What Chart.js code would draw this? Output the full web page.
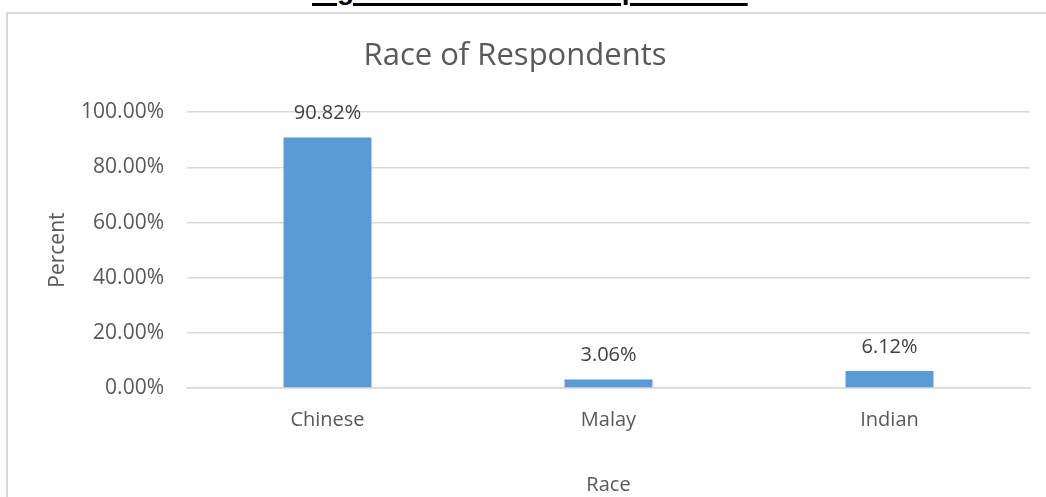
<!DOCTYPE html>
<html>
<head>
<meta charset="utf-8">
<script src="https://cdn.jsdelivr.net/npm/chart.js@4"></script>
<style>
  html, body { margin: 0; padding: 0; background: #fff; }
  body { width: 1046px; height: 497px; position: relative; overflow: hidden; }
  #caption {
    position: absolute; left: 312px; top: -24px;
    font: bold 28px/28px "Liberation Sans", Arial, sans-serif;
    color: #000; white-space: nowrap;
    text-decoration: underline; text-decoration-thickness: 3px; text-underline-offset: 4px;
  }
  #frame {
    position: absolute; left: 6px; top: 12px; width: 1100px; height: 600px;
    border: 2px solid #d9d9d9; box-sizing: border-box;
  }
  #wrap { position: absolute; left: 0; top: 0; width: 1046px; height: 497px; }
</style>
</head>
<body>
<div id="caption">Figure 4.4: Race of Respondents</div>
<div id="frame"></div>
<div id="wrap"><canvas id="grafico" width="1046" height="497"></canvas></div>
<script>
const racas = ['Chinese', 'Malay', 'Indian'];
const percentuais = [90.82, 3.06, 6.12];
const ticksY = [0, 20, 40, 60, 80, 100];

const corTexto = '#595959';
const fonte = '"Open Sans", "Noto Sans", sans-serif';

// escreve o valor de cada barra logo acima dela
const rotulosValor = {
    id: 'rotulosValor',
    afterDatasetsDraw(chart) {
        const ctx = chart.ctx;
        const meta = chart.getDatasetMeta(0);
        ctx.save();
        ctx.fillStyle = '#404040';
        ctx.font = '20px ' + fonte;
        ctx.textAlign = 'center';
        ctx.textBaseline = 'middle';
        meta.data.forEach((barra, i) => {
            ctx.fillText(percentuais[i].toFixed(2) + '%', barra.x, barra.y - 24);
        });
        ctx.restore();
    }
};

new Chart(document.getElementById('grafico').getContext('2d'), {
    type: 'bar',
    data: {
        labels: racas,
        datasets: [{
            data: percentuais,
            backgroundColor: '#5b9bd5',
            borderWidth: 0,
            categoryPercentage: 1,
            barPercentage: 0.313
        }]
    },
    options: {
        responsive: false,
        animation: false,
        layout: { padding: { top: 0, right: 16, bottom: 0, left: 0 } },
        plugins: {
            legend: { display: false },
            tooltip: { enabled: false },
            title: {
                display: true,
                text: 'Race of Respondents',
                color: corTexto,
                font: { family: fonte, size: 31, weight: 'normal' },
                padding: { top: 38, bottom: 37 }
            }
        },
        scales: {
            y: {
                min: 0,
                max: 100,
                afterBuildTicks: (escala) => { escala.ticks = ticksY.map(v => ({ value: v })); },
                afterFit: (escala) => { escala.width = 187; },
                border: { display: false },
                grid: { color: '#d9d9d9', lineWidth: 1.5, drawTicks: false },
                ticks: {
                    color: corTexto,
                    font: { family: fonte, size: 21 },
                    padding: 23,
                    callback: (v) => v.toFixed(2) + '%'
                },
                title: {
                    display: true,
                    text: 'Percent',
                    color: corTexto,
                    font: { family: fonte, size: 21 },
                    padding: { top: 45, bottom: 0 }
                }
            },
            x: {
                border: { display: true, color: '#d9d9d9', width: 1.5 },
                grid: { display: false, drawTicks: false },
                ticks: {
                    color: corTexto,
                    font: { family: fonte, size: 20 },
                    padding: 20
                },
                title: {
                    display: true,
                    text: 'Race',
                    color: corTexto,
                    font: { family: fonte, size: 20 },
                    padding: { top: 21, bottom: 0 }
                }
            }
        }
    },
    plugins: [rotulosValor]
});
</script>
</body>
</html>
